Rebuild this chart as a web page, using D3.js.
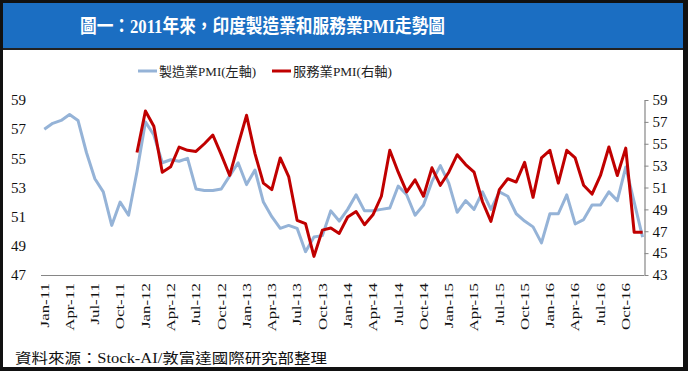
<!DOCTYPE html>
<html>
<head>
<meta charset="utf-8">
<script src="https://cdn.jsdelivr.net/npm/d3@7"></script>
<style>
    html, body { margin: 0; padding: 0; background: #fff; }
    svg { display: block; }
    text { font-family: "Liberation Serif", "Times New Roman", "Noto Sans CJK TC", serif; }
</style>
</head>
<body>
<svg id="chart"></svg>
<script>
// India manufacturing PMI (left axis), Jan-11 .. Dec-16
const mfgPmi = [
    57.0, 57.4, 57.6, 58.0, 57.6, 55.4, 53.6, 52.7, 50.4, 52.0, 51.1, 54.1,
    57.5, 56.6, 54.7, 54.9, 54.8, 55.0, 52.9, 52.8, 52.8, 52.9, 53.8, 54.7,
    53.2, 54.2, 52.0, 51.0, 50.2, 50.4, 50.2, 48.6, 49.6, 49.7, 51.4, 50.7,
    51.5, 52.5, 51.4, 51.4, 51.5, 51.6, 53.1, 52.5, 51.1, 51.8, 53.4, 54.5,
    53.3, 51.3, 52.1, 51.5, 52.7, 51.5, 52.7, 52.4, 51.2, 50.7, 50.3, 49.2,
    51.2, 51.2, 52.5, 50.5, 50.8, 51.8, 51.8, 52.7, 52.1, 54.4, 52.0, 49.6
];

// India services PMI (right axis), starts Dec-11
const svcPmi = [
    null, null, null, null, null, null, null, null, null, null, null, 54.2,
    58.0, 56.6, 52.4, 52.9, 54.7, 54.4, 54.3, 55.0, 55.8, 54.0, 52.1, 54.9,
    57.6, 54.1, 51.4, 50.8, 53.7, 52.0, 48.0, 47.7, 44.7, 47.1, 47.3, 46.8,
    48.3, 48.8, 47.6, 48.5, 50.2, 54.4, 52.4, 50.6, 51.7, 50.2, 52.8, 51.2,
    52.4, 54.0, 53.1, 52.4, 49.7, 47.9, 50.8, 51.8, 51.5, 53.3, 50.1, 53.7,
    54.4, 51.4, 54.4, 53.7, 51.2, 50.4, 52.1, 54.7, 52.1, 54.6, 46.9, 46.9
];

const monthNames = ['Jan', 'Feb', 'Mar', 'Apr', 'May', 'Jun', 'Jul', 'Aug', 'Sep', 'Oct', 'Nov', 'Dec'];
const years = ['11', '12', '13', '14', '15', '16'];
const months = [];
years.forEach(y => monthNames.forEach(m => months.push(m + '-' + y)));

const tickLabels = [
    'Jan-11', 'Apr-11', 'Jul-11', 'Oct-11', 'Jan-12', 'Apr-12', 'Jul-12', 'Oct-12',
    'Jan-13', 'Apr-13', 'Jul-13', 'Oct-13', 'Jan-14', 'Apr-14', 'Jul-14', 'Oct-14',
    'Jan-15', 'Apr-15', 'Jul-15', 'Oct-15', 'Jan-16', 'Apr-16', 'Jul-16', 'Oct-16'
];
const leftTicks = [47, 49, 51, 53, 55, 57, 59];
const rightTicks = [43, 45, 47, 49, 51, 53, 55, 57, 59];

const titleText = '圖一：2011年來，印度製造業和服務業PMI走勢圖';
const legendNames = ['製造業PMI(左軸)', '服務業PMI(右軸)'];
const sourceText = '資料來源：Stock-AI/敦富達國際研究部整理';

// Render size
const svgWidth = 688,
    svgHeight = 371;
const svg = d3.select('svg#chart')
    .attr('width', svgWidth)
    .attr('height', svgHeight);

const plotTop = 100,
    plotBottom = 275,
    axisLeft = 41,
    axisRight = 644,
    mfgColor = '#95b3d7',
    svcColor = '#c00000',
    axisColor = '#868686';

const x = d3.scalePoint().domain(months).range([44.3, 642.6]);
const yLeft = d3.scaleLinear().domain([47, 59]).range([plotBottom, plotTop]);
const yRight = d3.scaleLinear().domain([43, 59]).range([plotBottom, plotTop]);

drawFrame();
drawTitle();
drawLegend();
drawAxes();
drawLines();
drawSource();

/**
 * Black frame, blue title band
 */
function drawFrame() {
    svg.append('rect').attr('x', 0).attr('y', 0).attr('width', svgWidth).attr('height', svgHeight).attr('fill', '#111');
    svg.append('rect').attr('x', 3).attr('y', 3).attr('width', 680).attr('height', 364).attr('fill', '#fff');
    svg.append('rect').attr('x', 3).attr('y', 3).attr('width', 680).attr('height', 45).attr('fill', '#1b6ec2');
    svg.append('rect').attr('x', 3).attr('y', 48).attr('width', 680).attr('height', 2).attr('fill', '#222');
}

function drawTitle() {
    svg.append('text')
        .text(titleText)
        .attr('x', 80)
        .attr('y', 33)
        .attr('fill', '#fff')
        .attr('font-size', 19)
        .attr('font-weight', 'bold')
        .attr('textLength', 365)
        .attr('lengthAdjust', 'spacingAndGlyphs');
}

function drawLegend() {
    const items = [
        { name: legendNames[0], color: mfgColor, x: 138, w: 97 },
        { name: legendNames[1], color: svcColor, x: 272, w: 99 }
    ];
    items.forEach(item => {
        svg.append('line')
            .attr('x1', item.x).attr('x2', item.x + 19)
            .attr('y1', 71).attr('y2', 71)
            .attr('stroke', item.color)
            .attr('stroke-width', 3);
        svg.append('text')
            .text(item.name)
            .attr('x', item.x + 21)
            .attr('y', 76)
            .attr('font-size', 13)
            .attr('fill', '#222')
            .attr('textLength', item.w)
            .attr('lengthAdjust', 'spacingAndGlyphs');
    });
}

function drawAxes() {
    // x axis line, no ticks
    svg.append('line')
        .attr('x1', axisLeft).attr('x2', axisRight)
        .attr('y1', plotBottom + 0.5).attr('y2', plotBottom + 0.5)
        .attr('stroke', axisColor)
        .attr('stroke-width', 1.2);

    // rotated month labels
    tickLabels.forEach(label => {
        svg.append('text')
            .text(label)
            .attr('transform', 'translate(' + x(label) + ',283) rotate(-90) scale(1.3,1)')
            .attr('text-anchor', 'end')
            .attr('dominant-baseline', 'central')
            .attr('font-size', 13)
            .attr('fill', '#111');
    });

    // left axis: labels only
    const leftAxis = d3.axisLeft(yLeft).tickValues(leftTicks).tickSize(0).tickPadding(0);
    const gl = svg.append('g')
        .attr('transform', 'translate(26,0)')
        .call(leftAxis);
    gl.select('.domain').remove();
    gl.selectAll('text')
        .attr('font-size', 15)
        .attr('fill', '#111')
        .attr('font-family', '"Liberation Serif", "Times New Roman", serif');

    // right axis with line and outside ticks
    const rightAxis = d3.axisRight(yRight).tickValues(rightTicks).tickSize(4).tickSizeOuter(0).tickPadding(4);
    const gr = svg.append('g')
        .attr('transform', 'translate(' + (axisRight + 0.5) + ',0)')
        .call(rightAxis);
    gr.select('.domain').attr('stroke', axisColor).attr('stroke-width', 1.2);
    gr.selectAll('.tick line').attr('stroke', axisColor);
    gr.selectAll('text')
        .attr('font-size', 15)
        .attr('fill', '#111')
        .attr('font-family', '"Liberation Serif", "Times New Roman", serif');
}

function drawLines() {
    const mfgLine = d3.line()
        .x((d, i) => x(months[i]))
        .y(d => yLeft(d));
    const svcLine = d3.line()
        .defined(d => d !== null)
        .x((d, i) => x(months[i]))
        .y(d => yRight(d));

    svg.append('path')
        .datum(mfgPmi)
        .attr('d', mfgLine)
        .attr('fill', 'none')
        .attr('stroke', mfgColor)
        .attr('stroke-width', 3)
        .attr('stroke-linejoin', 'round');
    svg.append('path')
        .datum(svcPmi)
        .attr('d', svcLine)
        .attr('fill', 'none')
        .attr('stroke', svcColor)
        .attr('stroke-width', 3)
        .attr('stroke-linejoin', 'round');
}

function drawSource() {
    svg.append('text')
        .text(sourceText)
        .attr('x', 15)
        .attr('y', 363)
        .attr('font-size', 14)
        .attr('fill', '#111')
        .attr('textLength', 312)
        .attr('lengthAdjust', 'spacingAndGlyphs');
}
</script>
</body>
</html>
